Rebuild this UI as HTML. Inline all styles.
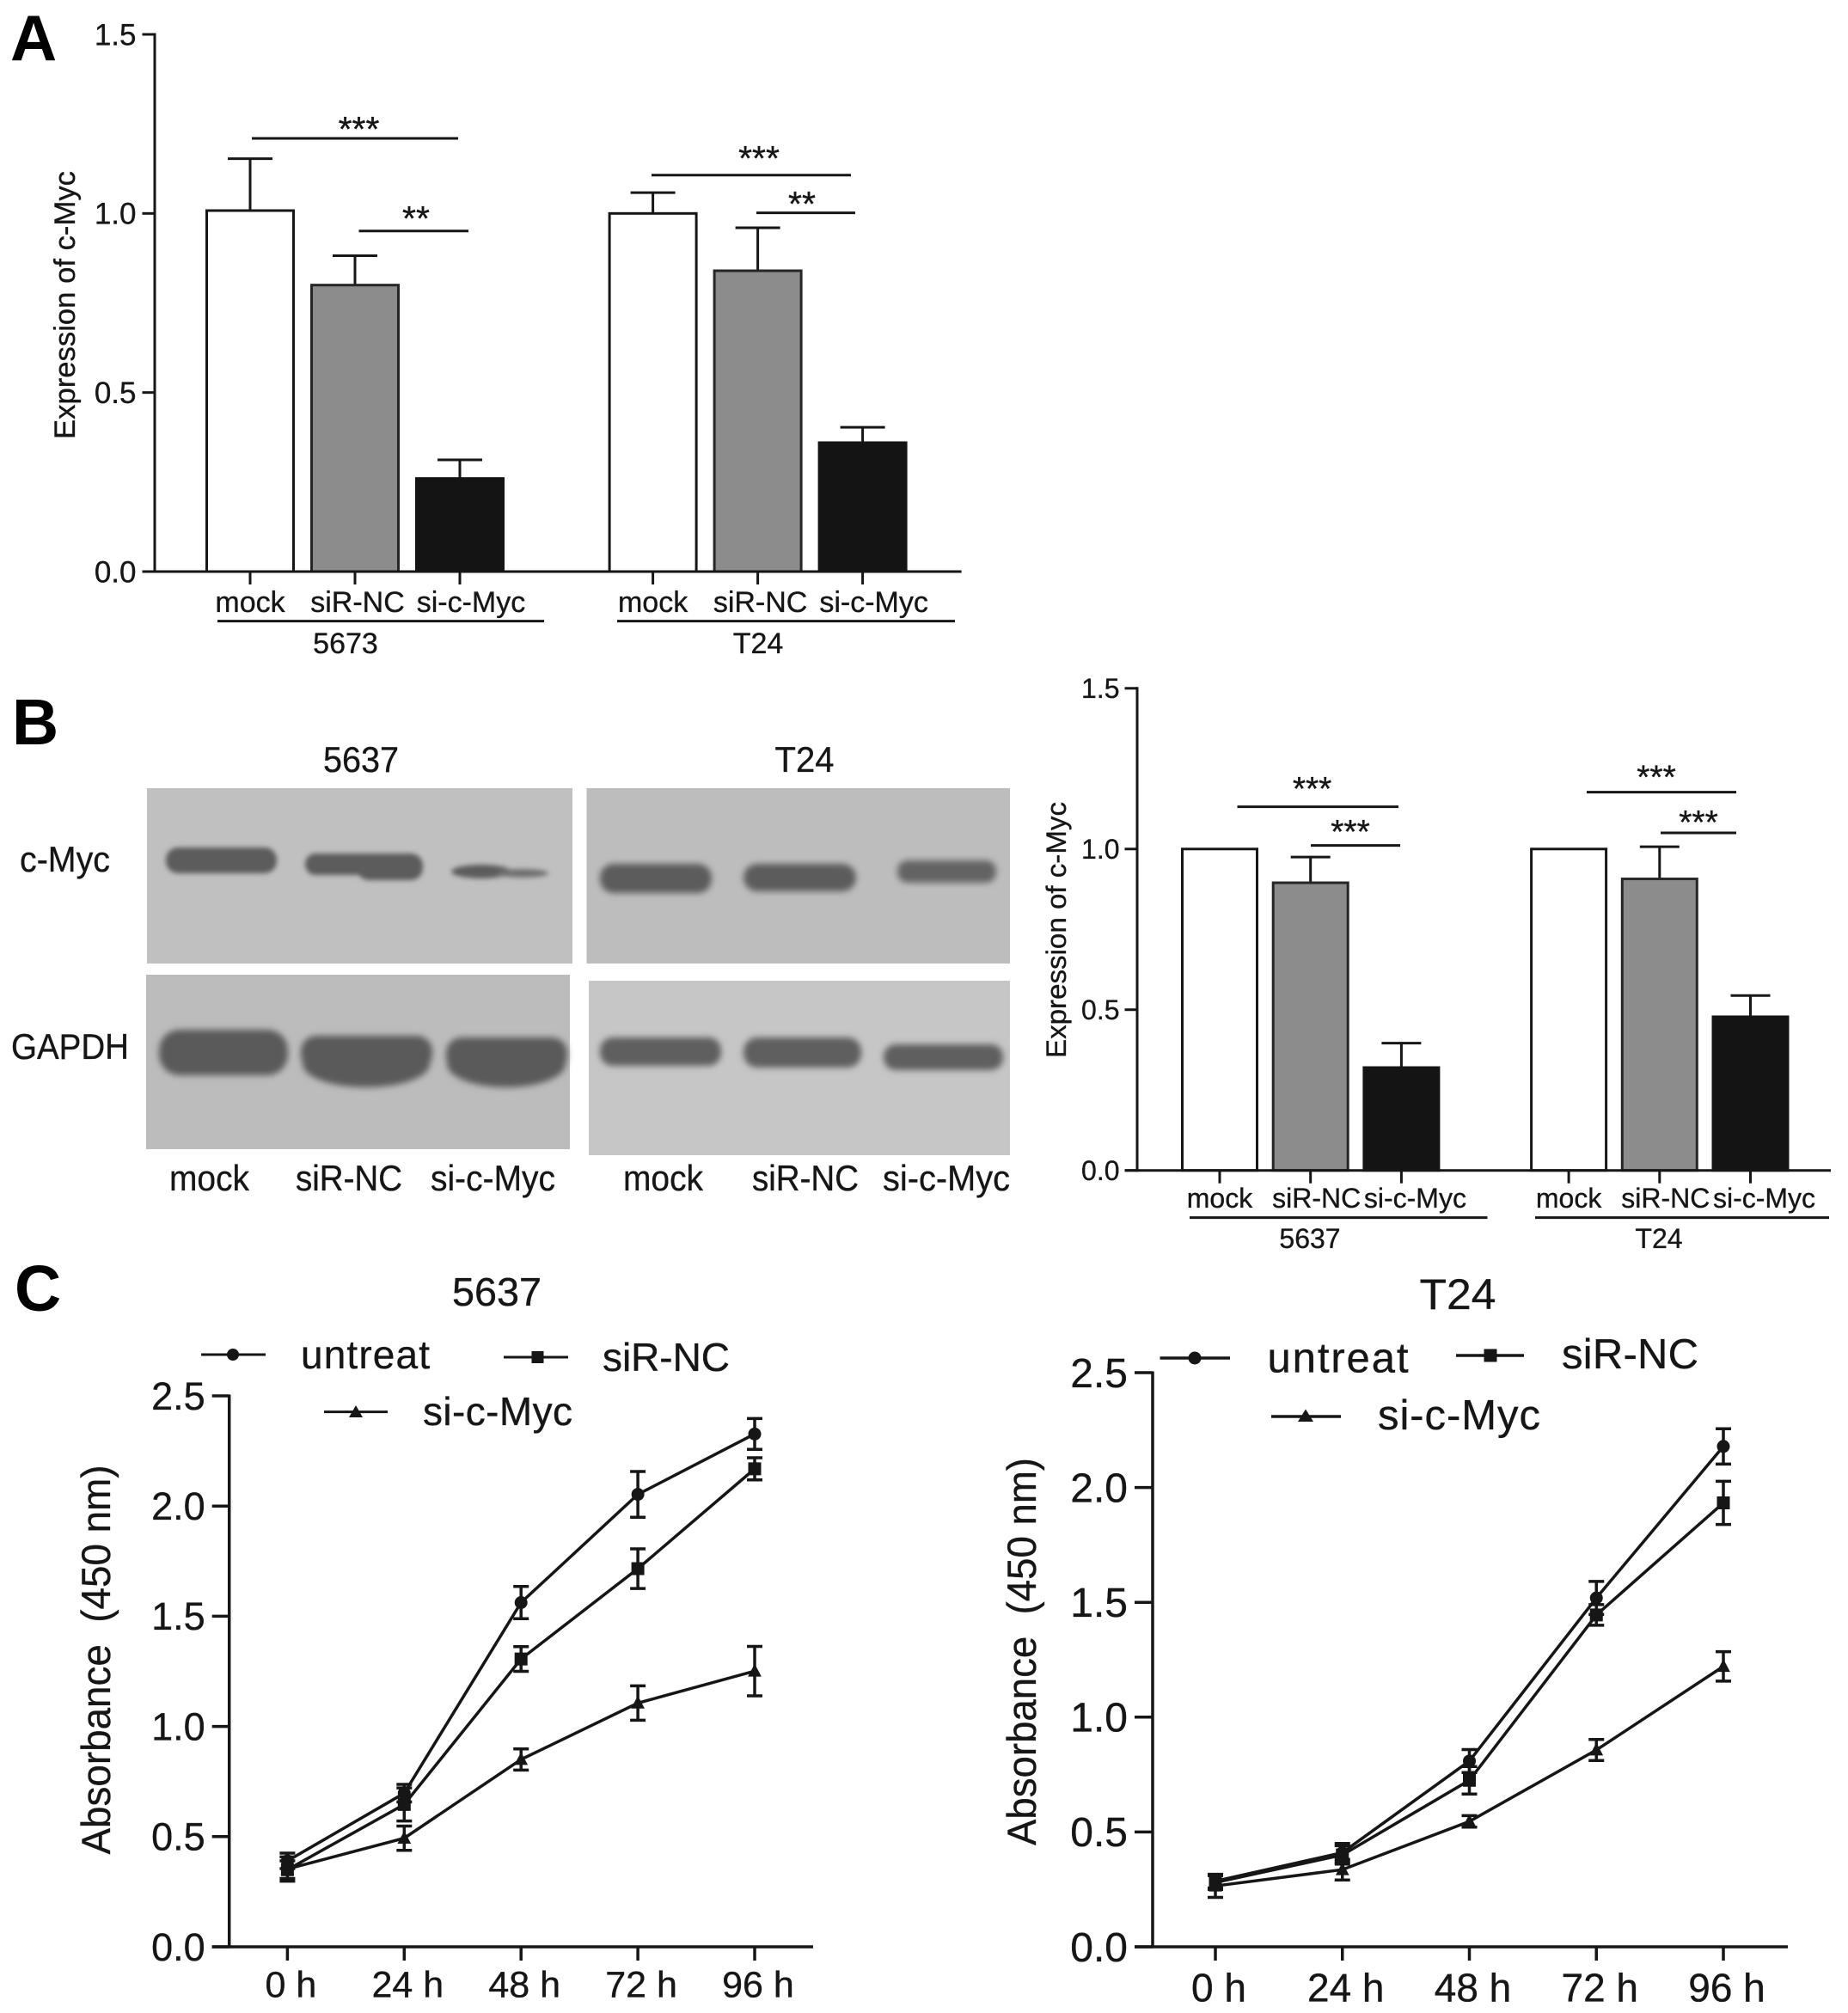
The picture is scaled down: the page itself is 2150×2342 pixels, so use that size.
<!DOCTYPE html>
<html lang="en">
<head>
<meta charset="utf-8">
<title>c-Myc expression and absorbance figure</title>
<style>
  html, body { margin: 0; padding: 0; background: #ffffff; }
  svg { display: block; }
  text { font-family: "Liberation Sans", Arial, sans-serif; fill: #161616; stroke: #161616; stroke-width: 0.35px; white-space: pre; }
  .panel { font-weight: bold; font-size: 75px; fill: #000; stroke: none; }
</style>
</head>
<body>
<svg xmlns="http://www.w3.org/2000/svg" width="2150" height="2342" viewBox="0 0 2150 2342">
  <defs>
    <filter id="soft" x="-20%" y="-60%" width="140%" height="220%"><feGaussianBlur stdDeviation="3.8"/></filter>
    <filter id="softer" x="-20%" y="-60%" width="140%" height="220%"><feGaussianBlur stdDeviation="3"/></filter>
  </defs>
  <rect width="2150" height="2342" fill="#ffffff"/>

  <text class="panel" x="12" y="70">A</text>
  <text class="panel" x="14" y="866">B</text>
  <text class="panel" x="17" y="1525">C</text>

  <!-- Panel A -->
  <g id="chart-a"></g>
  <g stroke="#161616" stroke-width="3">
    <line x1="293" x2="533" y1="161" y2="161"/>
    <line x1="417.5" x2="545" y1="268.7" y2="268.7"/>
    <line x1="758" x2="990" y1="203.8" y2="203.8"/>
    <line x1="880" x2="995" y1="247.6" y2="247.6"/>
    <line x1="253" x2="633" y1="722.6" y2="722.6"/>
    <line x1="718" x2="1111" y1="722.6" y2="722.6"/>
  </g>
  <g text-anchor="middle" font-size="34">
    <text x="417.5" y="164" font-size="41">***</text>
    <text x="484" y="268" font-size="41">**</text>
    <text x="883" y="198" font-size="41">***</text>
    <text x="933" y="251" font-size="41">**</text>
    <text x="402" y="760">5673</text>
    <text x="882" y="760">T24</text>
    <text transform="translate(87 355) rotate(-90)" font-size="34" textLength="312" lengthAdjust="spacingAndGlyphs">Expression of c-Myc</text>
  </g>

  <!-- Panel B western blots -->
  <g>
    <rect x="171" y="917" width="495" height="204" fill="#c0c0c0"/>
    <rect x="682.5" y="917" width="492.5" height="204" fill="#bdbdbd"/>
    <rect x="170" y="1134" width="493" height="203" fill="#bcbcbc"/>
    <rect x="685" y="1141" width="490" height="203" fill="#c6c6c6"/>
    <g fill="#5c5c5c" filter="url(#softer)">
      <rect x="193" y="986" width="129" height="30" rx="14"/>
      <rect x="355" y="993" width="110" height="25" rx="12"/>
      <rect x="415" y="993" width="77" height="31" rx="14"/>
      <ellipse cx="560" cy="1014" rx="35" ry="8"/>
      <ellipse cx="608" cy="1016" rx="30" ry="5" fill="#6e6e6e"/>
    </g>
    <g fill="#5c5c5c" filter="url(#soft)">
      <rect x="698" y="1005" width="130" height="34" rx="16"/>
      <rect x="865" y="1005" width="131" height="32" rx="16"/>
      <rect x="1044" y="1001" width="115" height="26" rx="12" fill="#646464"/>
    </g>
    <g fill="#5a5a5a" filter="url(#soft)">
      <rect x="185" y="1198" width="150" height="53" rx="24"/>
      <rect x="350" y="1205" width="153" height="40" rx="18"/>
      <ellipse cx="426" cy="1238" rx="74" ry="27"/>
      <rect x="519" y="1207" width="141" height="40" rx="18"/>
      <ellipse cx="589" cy="1238" rx="69" ry="27"/>
    </g>
    <g fill="#5e5e5e" filter="url(#soft)">
      <rect x="698" y="1207" width="141" height="33" rx="15"/>
      <rect x="865" y="1207" width="137" height="35" rx="16"/>
      <rect x="1028" y="1215" width="139" height="30" rx="14"/>
    </g>
    <g font-size="42">
      <text x="420" y="898" text-anchor="middle" textLength="88" lengthAdjust="spacingAndGlyphs">5637</text>
      <text x="936" y="898" text-anchor="middle" textLength="69" lengthAdjust="spacingAndGlyphs">T24</text>
      <text x="23" y="1014" textLength="105" lengthAdjust="spacingAndGlyphs">c-Myc</text>
      <text x="13" y="1232" textLength="137" lengthAdjust="spacingAndGlyphs">GAPDH</text>
      <text x="197" y="1385" textLength="93" lengthAdjust="spacingAndGlyphs">mock</text>
      <text x="344" y="1385" textLength="124" lengthAdjust="spacingAndGlyphs">siR-NC</text>
      <text x="501" y="1385" textLength="145" lengthAdjust="spacingAndGlyphs">si-c-Myc</text>
      <text x="725" y="1385" textLength="93" lengthAdjust="spacingAndGlyphs">mock</text>
      <text x="875" y="1385" textLength="124" lengthAdjust="spacingAndGlyphs">siR-NC</text>
      <text x="1027" y="1385" textLength="148" lengthAdjust="spacingAndGlyphs">si-c-Myc</text>
    </g>
  </g>

  <!-- Panel B bar chart -->
  <g id="chart-b"></g>
  <g stroke="#161616" stroke-width="3">
    <line x1="1439.5" x2="1627" y1="938.6" y2="938.6"/>
    <line x1="1525" x2="1629" y1="983.6" y2="983.6"/>
    <line x1="1846" x2="2020" y1="921.6" y2="921.6"/>
    <line x1="1932" x2="2020" y1="969" y2="969"/>
    <line x1="1384" x2="1730.5" y1="1416.6" y2="1416.6"/>
    <line x1="1786" x2="2128" y1="1416.6" y2="1416.6"/>
  </g>
  <g text-anchor="middle" font-size="32">
    <text x="1526.6" y="931" font-size="39">***</text>
    <text x="1571" y="981" font-size="39">***</text>
    <text x="1927" y="917.5" font-size="39">***</text>
    <text x="1976" y="970" font-size="39">***</text>
    <text x="1524" y="1452">5637</text>
    <text x="1930" y="1452">T24</text>
    <text transform="translate(1240 1082) rotate(-90)" font-size="32" textLength="298" lengthAdjust="spacingAndGlyphs">Expression of c-Myc</text>
  </g>

  <!-- Panel C left -->
  <g id="chart-c1"></g>
  <text x="578" y="1519" text-anchor="middle" font-size="46" textLength="104" lengthAdjust="spacingAndGlyphs">5637</text>
  <text transform="translate(128 1931) rotate(-90)" text-anchor="middle" font-size="47" textLength="453" lengthAdjust="spacingAndGlyphs">Absorbance  (450 nm)</text>
  <g font-size="46" fill="#161616" stroke="none">
    <g>
      <line x1="234" x2="309" y1="1576" y2="1576" stroke="#161616" stroke-width="3"/>
      <circle cx="271" cy="1576" r="7"/>
      <text x="350" y="1592" textLength="150">untreat</text>
    </g>
    <g>
      <line x1="586" x2="661" y1="1579" y2="1579" stroke="#161616" stroke-width="3"/>
      <rect x="618.5" y="1572" width="14" height="14"/>
      <text x="701" y="1595" textLength="148">siR-NC</text>
    </g>
    <g>
      <line x1="377" x2="451" y1="1642.6" y2="1642.6" stroke="#161616" stroke-width="3"/>
      <polygon points="414,1635 422,1649 406,1649"/>
      <text x="492" y="1658" textLength="174">si-c-Myc</text>
    </g>
  </g>

  <!-- Panel C right -->
  <g id="chart-c2"></g>
  <text x="1696" y="1523" text-anchor="middle" font-size="50" textLength="89" lengthAdjust="spacingAndGlyphs">T24</text>
  <text transform="translate(1205 1921.5) rotate(-90)" text-anchor="middle" font-size="47" textLength="451" lengthAdjust="spacingAndGlyphs">Absorbance  (450 nm)</text>
  <g font-size="49" fill="#161616" stroke="none">
    <g>
      <line x1="1349.5" x2="1431" y1="1580" y2="1580" stroke="#161616" stroke-width="3.5"/>
      <circle cx="1390" cy="1580" r="7.5"/>
      <text x="1474.5" y="1596.5" textLength="164">untreat</text>
    </g>
    <g>
      <line x1="1694" x2="1773" y1="1577" y2="1577" stroke="#161616" stroke-width="3.5"/>
      <rect x="1726.5" y="1569.5" width="15" height="15"/>
      <text x="1817" y="1592" textLength="159">siR-NC</text>
    </g>
    <g>
      <line x1="1479" x2="1560" y1="1648" y2="1648" stroke="#161616" stroke-width="3.5"/>
      <polygon points="1519,1639.5 1528,1654 1510,1654"/>
      <text x="1603" y="1663" textLength="189">si-c-Myc</text>
    </g>
  </g>
</svg>

<script>
// ---- Panel A bar values ----
const a5673Means = [1.008, 0.80, 0.26];
const a5673Errors = [0.145, 0.082, 0.052];
const aT24Means = [1.0, 0.84, 0.36];
const aT24Errors = [0.058, 0.12, 0.043];

// ---- Panel B bar values ----
const b5637Means = [1.0, 0.895, 0.32];
const b5637Errors = [0, 0.08, 0.076];
const bT24Means = [1.0, 0.907, 0.478];
const bT24Errors = [0, 0.10, 0.066];

const barCategories = ['mock', 'siR-NC', 'si-c-Myc'];
const barTickLabels = ['0.0', '0.5', '1.0', '1.5'];
const barTickValues = [0, 0.5, 1.0, 1.5];

// ---- Panel C values ----
const timeLabels = ['0 h', '24 h', '48 h', '72 h', '96 h'];
const lineTickLabels = ['0.0', '0.5', '1.0', '1.5', '2.0', '2.5'];
const lineTickValues = [0, 0.5, 1.0, 1.5, 2.0, 2.5];

const c5637Untreat = [0.39, 0.697, 1.562, 2.053, 2.327];
const c5637UntreatErr = [0.035, 0.04, 0.073, 0.104, 0.07];
const c5637SirNC = [0.35, 0.646, 1.306, 1.716, 2.169];
const c5637SirNCErr = [0.04, 0.075, 0.056, 0.09, 0.05];
const c5637SiMyc = [0.353, 0.493, 0.85, 1.106, 1.251];
const c5637SiMycErr = [0.055, 0.055, 0.048, 0.078, 0.112];

const cT24Untreat = [0.286, 0.41, 0.809, 1.519, 2.179];
const cT24UntreatErr = [0.03, 0.04, 0.05, 0.072, 0.077];
const cT24SirNC = [0.28, 0.40, 0.725, 1.445, 1.933];
const cT24SirNCErr = [0.03, 0.04, 0.06, 0.045, 0.094];
const cT24SiMyc = [0.265, 0.336, 0.546, 0.857, 1.221];
const cT24SiMycErr = [0.05, 0.045, 0.025, 0.046, 0.064];

const SVGNS = 'http://www.w3.org/2000/svg';
const INK = '#161616';

function add(parent, tag, attrs, content) {
  const node = document.createElementNS(SVGNS, tag);
  for (const key in attrs) node.setAttribute(key, attrs[key]);
  if (content !== undefined) node.textContent = content;
  parent.appendChild(node);
  return node;
}

function linearScale(domainMax, pxZero, pxMax) {
  return function (v) { return pxZero + (pxMax - pxZero) * (v / domainMax); };
}

function drawYAxis(g, y, opts, tickValues, tickLabels) {
  const axis = add(g, 'line', { x1: opts.axisX, x2: opts.axisX, y1: y(tickValues[tickValues.length - 1]) - 1.5, y2: y(0) + 1.5, stroke: INK, 'stroke-width': opts.stroke });
  
  
  tickValues.forEach(function (v, i) {
    const tick = add(g, 'line', { x1: opts.axisX - opts.tickLen, x2: opts.axisX, y1: y(v), y2: y(v), stroke: INK, 'stroke-width': opts.stroke });
    
    
    const label = add(g, 'text', { x: opts.axisX - opts.tickLen - opts.labelGap, y: y(v) + opts.labelSize * 0.35, 'text-anchor': 'end', 'font-size': opts.labelSize }, tickLabels[i]);
    
    
  });
}

function drawBarChart(g, opts, groups) {
  const y = linearScale(1.5, opts.zeroY, opts.topY);
  const fills = ['#ffffff', '#8c8c8c', '#141414'];
  const strokes = [INK, '#262626', '#141414'];
  const x = function (groupIndex, i) { return opts.firstX + opts.slot * (groupIndex * 3 + i) + opts.groupGap * groupIndex; };

  groups.forEach(function (group, gi) {
    group.means.forEach(function (mean, i) {
      const cx = x(gi, i);
      const err = group.errors[i];
      if (err > 0) {
        const stem = add(g, 'line', { x1: cx, x2: cx, y1: y(mean), y2: y(mean + err), stroke: INK, 'stroke-width': 3 });
        
        
        const cap = add(g, 'line', { x1: cx - opts.capHalf, x2: cx + opts.capHalf, y1: y(mean + err), y2: y(mean + err), stroke: INK, 'stroke-width': 3 });
        
        
      }
      const bar = add(g, 'rect', { x: cx - opts.barWidth / 2, y: y(mean), width: opts.barWidth, height: opts.zeroY - y(mean), fill: fills[i], stroke: strokes[i], 'stroke-width': 3 });
      
      
      const tick = add(g, 'line', { x1: cx, x2: cx, y1: opts.zeroY, y2: opts.zeroY + 15, stroke: INK, 'stroke-width': 3 });
      
      
      const label = add(g, 'text', { x: cx + opts.labelNudge[i], y: opts.labelY, 'text-anchor': 'middle', 'font-size': opts.catSize }, barCategories[i]);
      
      
    });
  });

  const xAxis = add(g, 'line', { x1: opts.axisX - opts.tickLen, x2: opts.endX, y1: opts.zeroY, y2: opts.zeroY, stroke: INK, 'stroke-width': 3 });
  
  
  drawYAxis(g, y, opts, barTickValues, barTickLabels);
}

function drawMarker(g, kind, cx, cy, size) {
  if (kind === 'circle') {
    const c = add(g, 'circle', { cx: cx, cy: cy, r: size, fill: INK });
    
    
  } else if (kind === 'square') {
    const s = add(g, 'rect', { x: cx - size, y: cy - size, width: size * 2, height: size * 2, fill: INK });
    
    
  } else {
    const pts = cx + ',' + (cy - size * 1.15) + ' ' + (cx + size * 1.05) + ',' + (cy + size * 0.85) + ' ' + (cx - size * 1.05) + ',' + (cy + size * 0.85);
    const t = add(g, 'polygon', { points: pts, fill: INK });
    
    
  }
}

function drawLineChart(g, opts, series) {
  const y = linearScale(2.5, opts.zeroY, opts.topY);
  const x = function (i) { return opts.firstX + opts.step * i; };

  series.forEach(function (s) {
    const d = s.values.map(function (v, i) { return (i ? 'L' : 'M') + x(i) + ' ' + y(v); }).join(' ');
    const path = add(g, 'path', { d: d, fill: 'none', stroke: INK, 'stroke-width': opts.stroke });
    
    
  });
  series.forEach(function (s) {
    s.values.forEach(function (v, i) {
      const e = s.errors[i];
      const err = add(g, 'path', {
        d: 'M' + x(i) + ' ' + y(v + e) + ' V' + y(v - e) +
           ' M' + (x(i) - 9) + ' ' + y(v + e) + ' H' + (x(i) + 9) +
           ' M' + (x(i) - 9) + ' ' + y(v - e) + ' H' + (x(i) + 9),
        fill: 'none', stroke: INK, 'stroke-width': opts.stroke
      });
      
      
    });
  });
  series.forEach(function (s) {
    s.values.forEach(function (v, i) { drawMarker(g, s.kind, x(i), y(v), opts.marker); });
  });

  const xAxis = add(g, 'line', { x1: opts.axisX - opts.tickLen, x2: opts.endX, y1: opts.zeroY, y2: opts.zeroY, stroke: INK, 'stroke-width': opts.stroke });
  
  
  timeLabels.forEach(function (t, i) {
    const tick = add(g, 'line', { x1: x(i), x2: x(i), y1: opts.zeroY, y2: opts.zeroY + 16, stroke: INK, 'stroke-width': opts.stroke });
    
    
    const label = add(g, 'text', { x: x(i) + opts.labelNudge, y: opts.labelY, 'text-anchor': 'middle', 'font-size': opts.xLabelSize }, t);
    
    
  });
  drawYAxis(g, y, opts, lineTickValues, lineTickLabels);
}

drawBarChart(document.getElementById('chart-a'), {
  axisX: 180, tickLen: 14.5, labelGap: 7, stroke: 3, zeroY: 665, topY: 40, labelSize: 35,
  firstX: 291, slot: 122, groupGap: 102.6, barWidth: 101, capHalf: 26,
  endX: 1118.6, labelY: 712, catSize: 34, labelNudge: [0, 3, 13]
}, [
  { means: a5673Means, errors: a5673Errors },
  { means: aT24Means, errors: aT24Errors }
]);

drawBarChart(document.getElementById('chart-b'), {
  axisX: 1323, tickLen: 14.5, labelGap: 6, stroke: 3, zeroY: 1361.7, topY: 800.8, labelSize: 32,
  firstX: 1419, slot: 105.7, groupGap: 89, barWidth: 87, capHalf: 23,
  endX: 2130, labelY: 1405, catSize: 32, labelNudge: [0, 7, 16]
}, [
  { means: b5637Means, errors: b5637Errors },
  { means: bT24Means, errors: bT24Errors }
]);

drawLineChart(document.getElementById('chart-c1'), {
  axisX: 266.7, tickLen: 20, labelGap: 8, stroke: 3.5, zeroY: 2265, topY: 1624, labelSize: 45, xLabelSize: 43,
  firstX: 334.4, step: 135.9, endX: 946, labelY: 2323.5, labelNudge: 4, marker: 7.5
}, [
  { values: c5637Untreat, errors: c5637UntreatErr, kind: 'circle' },
  { values: c5637SirNC, errors: c5637SirNCErr, kind: 'square' },
  { values: c5637SiMyc, errors: c5637SiMycErr, kind: 'triangle' }
]);

drawLineChart(document.getElementById('chart-c2'), {
  axisX: 1341, tickLen: 21, labelGap: 8, stroke: 3.5, zeroY: 2265, topY: 1597, labelSize: 48, xLabelSize: 46,
  firstX: 1414, step: 147.75, endX: 2080, labelY: 2328.5, labelNudge: 4, marker: 7.5
}, [
  { values: cT24Untreat, errors: cT24UntreatErr, kind: 'circle' },
  { values: cT24SirNC, errors: cT24SirNCErr, kind: 'square' },
  { values: cT24SiMyc, errors: cT24SiMycErr, kind: 'triangle' }
]);
</script>
</body>
</html>
